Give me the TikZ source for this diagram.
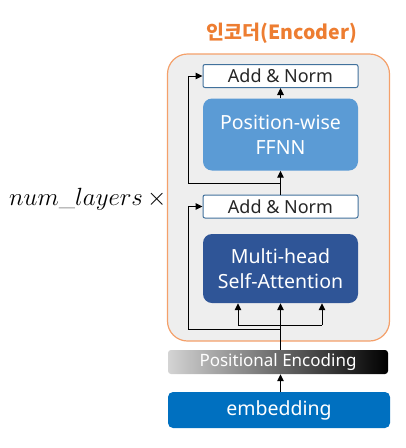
\documentclass[tikz,border=0pt]{standalone}
\usepackage{fontspec}
\setsansfont{Noto Sans}
\newfontfamily\krfont{Noto Sans CJK KR}
\usetikzlibrary{arrows.meta}
\definecolor{encorange}{HTML}{ED7D31}
\definecolor{encborder}{HTML}{F4A06A}
\definecolor{encfill}{HTML}{EEEEEE}
\definecolor{anborder}{HTML}{41719C}
\definecolor{ffnfill}{HTML}{5B9BD5}
\definecolor{mhafill}{HTML}{2F5597}
\definecolor{embfill}{HTML}{0070C0}
\tikzset{
  arr/.style={draw=black, line width=1pt, -{Triangle[length=7pt,width=6.5pt]}},
  ln/.style={draw=black, line width=1pt},
  anbox/.style={draw=anborder, line width=1pt, fill=white, rounded corners=2pt,
    minimum width=155pt, minimum height=23pt, inner sep=0pt,
    font=\sffamily\fontsize{18}{20}\selectfont, text=black!85},
  bigbox/.style={fill=#1, rounded corners=9pt, minimum width=155pt, inner sep=0pt,
    align=center, text=white, font=\sffamily\fontsize{19.5}{25}\selectfont},
}
\begin{document}
\begin{tikzpicture}[x=1pt,y=-1pt]
\useasboundingbox (0,0) rectangle (406,448);
% encoder frame
\node[draw=encborder, line width=1.2pt, fill=encfill, rounded corners=20pt,
  minimum width=222pt, minimum height=287pt, inner sep=0pt] (enc) at (278.5,197.5) {};
\node[font=\krfont\bfseries\fontsize{19.5}{22}\selectfont, text=encorange] (title) at (282,33) {인코더(Encoder)};
% blocks
\node[anbox] (an2) at (280.5,76) {Add \& Norm};
\node[bigbox=ffnfill, minimum height=72pt] (ffn) at (280.5,134.5) {Position-wise\\FFNN};
\node[anbox] (an1) at (280.5,206.5) {Add \& Norm};
\node[bigbox=mhafill, minimum height=69pt] (mha) at (280.5,268.5) {Multi-head\\Self-Attention};
% positional encoding and embedding
\node[left color=black!17, middle color=black!50, right color=black, rounded corners=3pt,
  minimum width=220pt, minimum height=24pt, inner sep=0pt, text=white,
  font=\sffamily\fontsize{17}{19}\selectfont] (pe) at (278,362) {Positional Encoding};
\node[fill=embfill, rounded corners=5pt, minimum width=222pt, minimum height=36pt,
  inner sep=0pt, text=white, font=\sffamily\fontsize{19.5}{22}\selectfont] (emb) at (279,410) {embedding};
% left label
\node[font=\fontsize{23.5}{26}\selectfont, anchor=west, inner sep=0pt] (nl) at (9,199) {$num\_layers\,\times$};
% junction coordinates
\coordinate (b1) at (280.5,329);
\coordinate (l1) at (188,206.5);
\coordinate (h0) at (280.5,325);
\coordinate (hl) at (238,325);
\coordinate (hr) at (322,325);
\coordinate (b2) at (280.5,183);
\coordinate (l2) at (188,76);
% connectors
\draw[arr] (emb.north -| mha.south) -- (pe.south -| mha.south);
\draw[arr] (pe.north -| mha.south) -- (mha.south);
\draw[ln] (hl) -- (hr);
\draw[arr] (hl) -- (mha.south -| hl);
\draw[arr] (hr) -- (mha.south -| hr);
\draw[arr] (b1) -| (l1) -- (an1.west);
\draw[arr] (an1.north) -- (ffn.south);
\draw[arr] (b2) -| (l2) -- (an2.west);
\draw[arr] (ffn.north) -- (an2.south);
\end{tikzpicture}
\end{document}
